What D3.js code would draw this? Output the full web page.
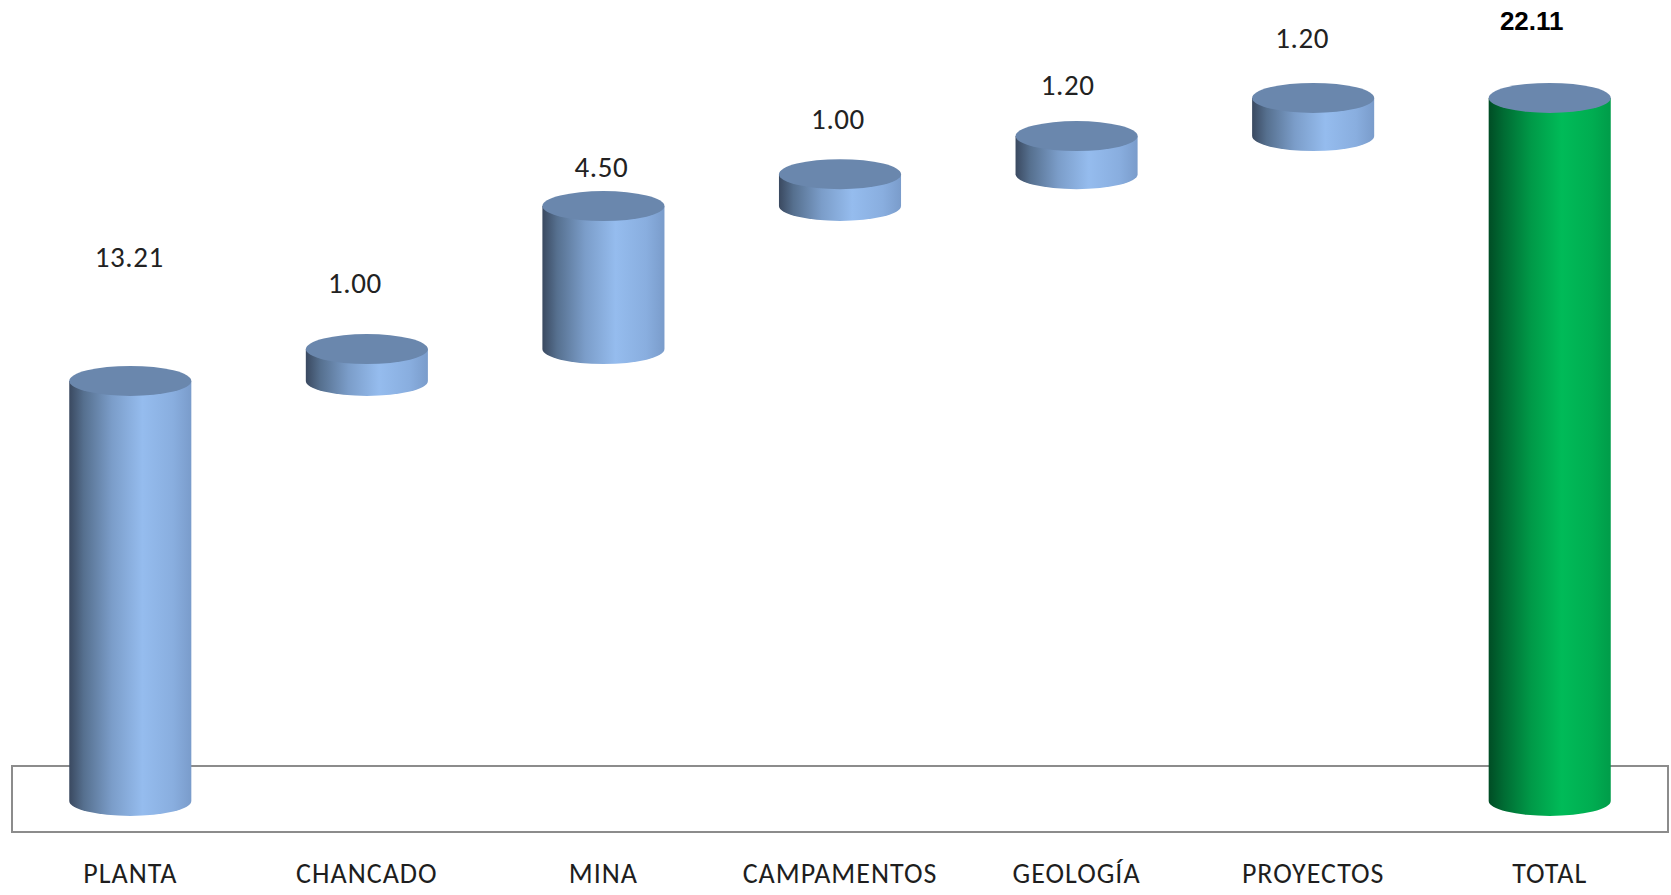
<!DOCTYPE html>
<html>
<head>
<meta charset="utf-8">
<script src="https://cdn.jsdelivr.net/npm/d3@7"></script>
<style>
  body { margin: 0; background: #ffffff; }
  svg { display: block; }
</style>
</head>
<body>
<svg width="1671" height="895"></svg>
<script>
// waterfall data
const categories = ["PLANTA", "CHANCADO", "MINA", "CAMPAMENTOS", "GEOLOGÍA", "PROYECTOS", "TOTAL"];
const values = [13.21, 1.00, 4.50, 1.00, 1.20, 1.20, 22.11];
const isTotal = [false, false, false, false, false, false, true];

// label nudges (px) - excel placed them a bit unevenly
const labelRaise = [114, 56, 29, 45, 41, 50, 68];
const labelShift = [-1, -12, -2, -2, -9, -11, -18];

var svg = d3.select("svg");

// running bases for the floating bars
var bases = [];
var run = 0;
values.forEach(function(v, i) {
    if (isTotal[i]) { bases.push(0); }
    else { bases.push(run); run += v; }
});

var x = d3.scaleBand().domain(categories).range([12, 1668]).paddingInner(0.484).paddingOuter(0.242);
var y = d3.scaleLinear().domain([0, 25]).range([801, 6]);

var ry = 15;
var rx = x.bandwidth() / 2;

// gradients
var defs = svg.append("defs");
function addGrad(id, stops) {
    var g = defs.append("linearGradient").attr("id", id)
        .attr("x1", 0).attr("x2", 1).attr("y1", 0).attr("y2", 0);
    stops.forEach(function(s) {
        g.append("stop").attr("offset", s[0]).attr("stop-color", s[1]);
    });
}
addGrad("blueSide", [[0, "#3a4960"], [0.12, "#56708f"], [0.35, "#7b9dc9"], [0.6, "#95bcee"], [0.85, "#89aedf"], [1, "#7a9ccb"]]);
addGrad("greenSide", [[0, "#004d25"], [0.12, "#006b33"], [0.35, "#009a48"], [0.6, "#00bb58"], [0.85, "#00ad51"], [1, "#009c49"]]);

// floor box
svg.append("rect")
    .attr("x", 12)
    .attr("y", 766)
    .attr("width", 1656)
    .attr("height", 66)
    .attr("fill", "none")
    .attr("stroke", "#8c8c8c")
    .attr("stroke-width", 2);

// cylinders
var bars = svg.append("g").selectAll("g")
    .data(categories)
    .enter()
    .append("g");

bars.append("path")
    .attr("fill", function(d, i) { return isTotal[i] ? "url(#greenSide)" : "url(#blueSide)"; })
    .attr("d", function(d, i) {
        var x0 = x(d), x1 = x(d) + x.bandwidth();
        var yt = y(bases[i] + values[i]), yb = y(bases[i]);
        return "M" + x0 + "," + yt + " L" + x0 + "," + yb +
            " A" + rx + "," + ry + " 0 0 0 " + x1 + "," + yb +
            " L" + x1 + "," + yt + " Z";
    });

bars.append("ellipse")
    .attr("cx", function(d) { return x(d) + rx; })
    .attr("cy", function(d, i) { return y(bases[i] + values[i]); })
    .attr("rx", rx)
    .attr("ry", ry)
    .attr("fill", "#6a87ad");

// value labels
var fmt = d3.format(".2f");
svg.append("g").selectAll("text")
    .data(categories)
    .enter()
    .append("text")
    .attr("x", function(d, i) { return x(d) + rx + labelShift[i]; })
    .attr("y", function(d, i) { return y(bases[i] + values[i]) - labelRaise[i]; })
    .attr("text-anchor", "middle")
    .style("font-family", function(d, i) { return isTotal[i] ? "'Liberation Sans', Arial, sans-serif" : "Carlito, Lato, sans-serif"; })
    .style("font-weight", function(d, i) { return isTotal[i] ? "bold" : "normal"; })
    .style("font-size", function(d, i) { return isTotal[i] ? "26px" : "29px"; })
    .style("letter-spacing", function(d, i) { return isTotal[i] ? "0px" : "0.6px"; })
    .style("fill", function(d, i) { return isTotal[i] ? "#000" : "#222"; })
    .text(function(d, i) { return fmt(values[i]); });

// category labels
svg.append("g").selectAll("text")
    .data(categories)
    .enter()
    .append("text")
    .attr("x", function(d) { return x(d) + rx; })
    .attr("y", 883)
    .attr("text-anchor", "middle")
    .style("font-family", "Carlito, Lato, sans-serif")
    .style("font-size", "28px")
    .style("letter-spacing", "1px")
    .style("fill", "#1e1e1e")
    .text(function(d) { return d; });
</script>
</body>
</html>
